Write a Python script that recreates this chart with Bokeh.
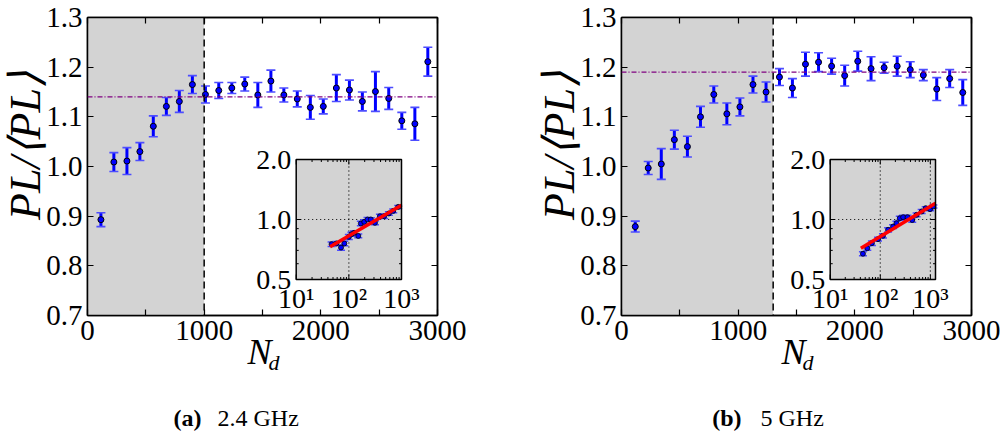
import math

from bokeh.core.properties import value
from bokeh.embed import file_html
from bokeh.models import (BoxAnnotation, CoordinateMapping, CustomJSTickFormatter,
                          FixedTicker, GridBox, LinearAxis, LogScale, NumeralTickFormatter,
                          Range1d, Span)
from bokeh.plotting import figure
from bokeh.plotting.glyph_api import GlyphAPI
from bokeh.resources import INLINE

# ---------------- data ----------------
# (a) 2.4 GHz: normalised path loss per N_d bin
nd_24 = [115, 226, 338, 449, 564, 676, 787, 899, 1011, 1125, 1237, 1348, 1460,
         1572, 1683, 1798, 1910, 2021, 2133, 2245, 2356, 2468, 2582, 2694, 2806, 2917]
pl_24 = [0.893, 1.009, 1.011, 1.030, 1.081, 1.121, 1.131, 1.165, 1.145, 1.153, 1.158,
         1.166, 1.144, 1.172, 1.144, 1.136, 1.119, 1.121, 1.158, 1.154, 1.131, 1.151,
         1.137, 1.092, 1.086, 1.211]
err_24 = [0.014, 0.019, 0.027, 0.018, 0.021, 0.018, 0.022, 0.018, 0.017, 0.016, 0.011,
          0.014, 0.025, 0.022, 0.014, 0.016, 0.024, 0.015, 0.027, 0.020, 0.019, 0.040,
          0.022, 0.017, 0.033, 0.029]
cutoff_24 = 1000
mean_24 = 1.14

# (b) 5 GHz
nd_5 = [118, 229, 341, 453, 565, 677, 791, 903, 1015, 1127, 1239, 1354, 1465,
        1577, 1689, 1801, 1913, 2025, 2139, 2251, 2363, 2475, 2587, 2702, 2813, 2925]
pl_5 = [0.879, 0.997, 1.005, 1.054, 1.040, 1.100, 1.145, 1.106, 1.120, 1.165, 1.150,
        1.180, 1.158, 1.206, 1.210, 1.202, 1.183, 1.212, 1.197, 1.199, 1.202, 1.195,
        1.184, 1.156, 1.177, 1.149]
err_5 = [0.011, 0.013, 0.031, 0.019, 0.021, 0.021, 0.017, 0.022, 0.018, 0.017, 0.020,
         0.017, 0.019, 0.024, 0.019, 0.016, 0.021, 0.020, 0.024, 0.011, 0.020, 0.016,
         0.011, 0.023, 0.018, 0.026]
cutoff_5 = 1300
mean_5 = 1.19

# log-log insets: low-N_d region with power-law fit
ins_nd_24 = [47, 58, 71, 82, 100, 112, 126, 151, 169, 196, 226, 262, 313, 389, 469, 576, 696, 865]
ins_pl_24 = [0.752, 0.758, 0.723, 0.758, 0.818, 0.844, 0.857, 0.827, 0.955, 0.973, 1.000,
             1.000, 0.962, 1.039, 1.039, 1.072, 1.104, 1.157]
ins_err_24 = [0.020, 0.018, 0.022, 0.020, 0.024, 0.020, 0.022, 0.018, 0.026, 0.024, 0.022,
              0.020, 0.020, 0.024, 0.028, 0.022, 0.024, 0.020]
fit_nd_24 = [44, 1000]
fit_pl_24 = [0.729, 1.180]
ins_xmax_24 = 1000

ins_nd_5 = [45, 55, 68, 90, 113, 143, 180, 210, 245, 286, 350, 434, 531, 670, 806, 985, 1148]
ins_pl_5 = [0.673, 0.718, 0.761, 0.797, 0.828, 0.888, 0.922, 0.958, 1.015, 1.027, 1.027,
            0.994, 1.055, 1.097, 1.140, 1.127, 1.162]
ins_err_5 = [0.016, 0.018, 0.020, 0.018, 0.020, 0.022, 0.020, 0.022, 0.024, 0.022, 0.024,
             0.026, 0.022, 0.024, 0.020, 0.022, 0.020]
fit_nd_5 = [41, 1265]
fit_pl_5 = [0.718, 1.208]
ins_xmax_5 = 1265

# axes
x_ticks = [0, 1000, 2000, 3000]
x_minor = [500, 1500, 2500]
y_ticks = [0.7, 0.8, 0.9, 1.0, 1.1, 1.2, 1.3]
ins_x_ticks = [10, 100, 1000]
ins_x_labels = ["10\u00b9", "10\u00b2", "10\u00b3"]
ins_x_minor = [20, 30, 40, 50, 60, 70, 80, 90, 200, 300, 400, 500, 600, 700, 800, 900]
ins_y_ticks = [0.5, 1.0, 2.0]
ins_y_labels = ["0.5", "1.0", "2.0"]
ins_y_minor = [0.6, 0.7, 0.8, 0.9]

# ---------------- styling ----------------
SERIF = "Liberation Serif"
X0, X1, Y0, Y1 = 0, 3000, 0.7, 1.3
W, H = 1000, 433
FW, FH = 350, 298
TOP = 17
GRAY = "#d3d3d3"
BLUE = "#0000ff"
CAP = "#4d4dff"


def px_x(px):
    """pixel offset from the frame's left edge -> data x"""
    return X0 + px / FW * (X1 - X0)


def px_y(py):
    """pixel offset from the frame's top edge -> data y"""
    return Y1 - py / FH * (Y1 - Y0)


def style_axis(ax, show_labels):
    ax.axis_line_color = "black"
    ax.axis_line_width = 1.5
    ax.major_tick_in = 6
    ax.major_tick_out = 0
    ax.minor_tick_in = 6
    ax.minor_tick_out = 0
    ax.major_tick_line_width = 1.2
    ax.minor_tick_line_width = 1.2
    ax.major_tick_line_color = "black"
    ax.minor_tick_line_color = "black"
    if show_labels:
        ax.major_label_text_font = SERIF
        ax.major_label_text_font_size = "29px"
        ax.major_label_text_color = "black"
        ax.major_label_standoff = 5
    else:
        ax.formatter = CustomJSTickFormatter(code="return ''")
        ax.major_label_text_font_size = "1px"
        ax.major_label_standoff = 0


def panel(nd, pl, err, cutoff, mean, ins_x, ins_y, ins_e, fit_x, fit_y, ins_xmax, left_pad):
    p = figure(frame_width=FW, frame_height=FH,
               x_range=Range1d(X0, X1), y_range=Range1d(Y0, Y1),
               output_backend="svg", toolbar_location=None,
               min_border_left=left_pad, min_border_right=W // 2 - left_pad - FW,
               min_border_top=TOP, min_border_bottom=H - TOP - FH)
    p.xgrid.visible = False
    p.ygrid.visible = False
    p.outline_line_color = "black"
    p.outline_line_width = 1.5
    p.background_fill_color = "white"
    p.border_fill_color = "white"

    xt = FixedTicker(ticks=x_ticks, minor_ticks=x_minor)
    yt = FixedTicker(ticks=y_ticks, minor_ticks=[])
    p.xaxis.ticker = xt
    p.xaxis.formatter = NumeralTickFormatter(format="0")
    p.yaxis.ticker = yt
    p.yaxis.formatter = NumeralTickFormatter(format="0.0")
    for ax in p.xaxis + p.yaxis:
        style_axis(ax, True)
    top_ax = LinearAxis(ticker=xt)
    right_ax = LinearAxis(ticker=yt)
    style_axis(top_ax, False)
    style_axis(right_ax, False)
    p.add_layout(top_ax, "above")
    p.add_layout(right_ax, "right")

    # shaded low-N_d region, its boundary and the plateau level
    p.add_layout(BoxAnnotation(left=X0, right=cutoff, fill_color=GRAY, fill_alpha=1.0,
                               line_color=None, level="underlay"))
    p.add_layout(Span(location=cutoff, dimension="height", line_color="black",
                      line_dash="7 4", line_width=1.5))
    p.add_layout(Span(location=mean, dimension="width", line_color="#800080",
                      line_dash="5 2 1 2", line_width=1.2))

    # error bars and points
    lo = [v - e for v, e in zip(pl, err)]
    hi = [v + e for v, e in zip(pl, err)]
    p.segment(x0=nd, y0=lo, x1=nd, y1=hi, line_color=BLUE, line_width=3)
    p.scatter(x=nd + nd, y=lo + hi, marker="dash", size=9, line_color=CAP, line_width=1.6)
    p.scatter(x=nd, y=pl, marker="circle", size=6, fill_color=BLUE,
              line_color="black", line_width=1)

    # ---- inset (log-log sub-coordinates inside the main frame) ----
    mapping = CoordinateMapping(x_source=Range1d(10, ins_xmax), y_source=Range1d(0.5, 2.0),
                                x_scale=LogScale(), y_scale=LogScale(),
                                x_target=Range1d(px_x(208.7), px_x(314)),
                                y_target=Range1d(px_y(262), px_y(142)))
    sub = GlyphAPI(p, mapping)
    sub.quad(left=[10], right=[ins_xmax], bottom=[0.5], top=[2.0],
             fill_color=GRAY, line_color=None)
    gx = [t for t in ins_x_ticks if 10 < t < ins_xmax]
    sub.segment(x0=gx, y0=[0.5] * len(gx), x1=gx, y1=[2.0] * len(gx),
                line_color="black", line_dash="1 3", line_width=1.2)
    sub.segment(x0=[10], y0=[1.0], x1=[ins_xmax], y1=[1.0],
                line_color="black", line_dash="1 3", line_width=1.2)

    ilo = [v - e for v, e in zip(ins_y, ins_e)]
    ihi = [v + e for v, e in zip(ins_y, ins_e)]
    sub.segment(x0=ins_x, y0=ilo, x1=ins_x, y1=ihi, line_color=BLUE, line_width=2)
    sub.scatter(x=ins_x + ins_x, y=ilo + ihi, marker="dash", size=8,
                line_color=CAP, line_width=1.5)
    sub.scatter(x=ins_x, y=ins_y, marker="circle", size=5, fill_color=BLUE,
                line_color="black", line_width=0.8)
    sub.line(x=fit_x, y=fit_y, line_color="red", line_width=3.5)

    sub.quad(left=[10], right=[ins_xmax], bottom=[0.5], top=[2.0],
             fill_color=None, line_color="black", line_width=1.5)

    # inset ticks (drawn inward from every side)
    xs_major = [t for t in ins_x_ticks if t <= ins_xmax]
    xs_minor = [t for t in ins_x_minor if t <= ins_xmax]
    for xs, ln in ((xs_major, 5), (xs_minor, 2.5)):
        n = len(xs)
        sub.ray(x=xs, y=[0.5] * n, length=ln, length_units="screen",
                angle=math.pi / 2, line_color="black", line_width=1)
        sub.ray(x=xs, y=[2.0] * n, length=ln, length_units="screen",
                angle=-math.pi / 2, line_color="black", line_width=1)
    for ys, ln in ((ins_y_ticks, 5), (ins_y_minor, 2.5)):
        n = len(ys)
        sub.ray(x=[10] * n, y=ys, length=ln, length_units="screen",
                angle=0, line_color="black", line_width=1)
        sub.ray(x=[ins_xmax] * n, y=ys, length=ln, length_units="screen",
                angle=math.pi, line_color="black", line_width=1)

    sub.text(x=xs_major, y=[0.5] * len(xs_major), text=ins_x_labels[:len(xs_major)],
             text_align="center", text_baseline="top", y_offset=3,
             text_font=value(SERIF), text_font_size=value("28px"), text_color="black")
    sub.text(x=[10] * len(ins_y_ticks), y=ins_y_ticks, text=ins_y_labels,
             text_align="right", text_baseline="middle", x_offset=-5,
             text_font=value(SERIF), text_font_size=value("28px"), text_color="black")
    return p


p1 = panel(nd_24, pl_24, err_24, cutoff_24, mean_24, ins_nd_24, ins_pl_24, ins_err_24,
           fit_nd_24, fit_pl_24, ins_xmax_24, 87)
p2 = panel(nd_5, pl_5, err_5, cutoff_5, mean_5, ins_nd_5, ins_pl_5, ins_err_5,
           fit_nd_5, fit_pl_5, ins_xmax_5, 121)

# ---- transparent text layer for axis titles and sub-captions (pixel coordinates) ----
txt = figure(frame_width=W, frame_height=H, x_range=Range1d(0, W), y_range=Range1d(H, 0),
             output_backend="svg", toolbar_location=None,
             x_axis_location=None, y_axis_location=None, min_border=0)
txt.frame_align = False
txt.xgrid.visible = False
txt.ygrid.visible = False
txt.outline_line_color = None
txt.background_fill_color = None
txt.border_fill_color = None


def put(x, y, text, size, style="normal", align="center", angle=0.0):
    txt.text(x=[x], y=[y], text=[text], angle=angle, text_align=align,
             text_baseline="middle", text_font=value(SERIF),
             text_font_style=style, text_font_size=value(size), text_color="black")


for left, tag, freq, tag_right, freq_left in ((87, "(a)", "2.4 GHz", 201, 217),
                                                (621, "(b)", "5 GHz", 741, 760)):
    put(left - 62, 145, "PL/\u27e8PL\u27e9", "44px", style="italic", angle=math.pi / 2)
    put(left + 172, 351, "N", "36px", style="italic")
    put(left + 181, 362, "d", "22px", style="italic", align="left")
    put(tag_right, 417, tag, "24px", style="bold", align="right")
    put(freq_left, 417, freq, "24px", align="left")

layout = GridBox(children=[(p1, 0, 0), (p2, 0, 1), (txt, 0, 0, 1, 2)])
open("out.html", "w").write(file_html(layout, INLINE))
